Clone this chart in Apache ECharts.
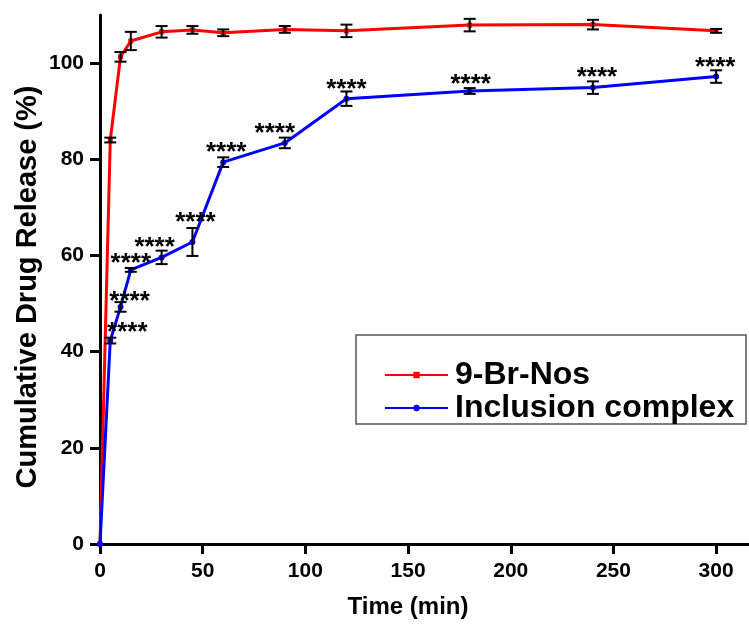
<!DOCTYPE html>
<html>
<head>
<meta charset="utf-8">
<script src="https://cdn.jsdelivr.net/npm/echarts@6/dist/echarts.min.js"></script>
<style>
  html, body { margin: 0; padding: 0; background: #fff; }
  #chart { width: 749px; height: 625px; }
</style>
</head>
<body>
<div id="chart"></div>
<script>
// Sampling times (min)
const timePoints = [0, 5, 10, 15, 30, 45, 60, 90, 120, 180, 240, 300];

// Cumulative release (%) and SD, free drug
const freeDrug   = [0, 84.0, 101.3, 104.6, 106.5, 106.9, 106.3, 107.0, 106.7, 107.9, 108.0, 106.7];
const freeDrugSd = [0, 0.5, 1.0, 1.9, 1.2, 0.8, 0.7, 0.7, 1.3, 1.3, 1.0, 0.4];

// Cumulative release (%) and SD, inclusion complex
const complexDrug   = [0, 42.3, 49.3, 57.0, 59.6, 62.8, 79.4, 83.4, 92.6, 94.2, 94.9, 97.2];
const complexDrugSd = [0, 0.6, 1.0, 0.4, 1.4, 2.9, 1.0, 1.1, 1.5, 0.6, 1.3, 1.3];

// Significance marks for the complex vs. free drug
const significance = ['', '****', '****', '****', '****', '****', '****', '****', '****', '****', '****', '****'];

const seriesNames = ['9-Br-Nos', 'Inclusion complex'];
const xTicks = [0, 50, 100, 150, 200, 250, 300];
const yTicks = [0, 20, 40, 60, 80, 100];

// Pixel nudges for the significance marks, relative to each point
const starNudge = [[0, 0], [17, -15], [9, -12], [0, -13], [-7, -17], [3, -26], [3, -16],
                   [-10, -16], [0, -16], [1, -13], [4, -17], [-1, -16]];

const FONT = 'Liberation Sans, Arial, sans-serif';
const RED = '#ff0000';
const BLUE = '#0000ff';

function errorBars(means, sds) {
  const rows = [];
  timePoints.forEach((t, i) => {
    if (sds[i] > 0) rows.push([t, means[i] - sds[i], means[i] + sds[i]]);
  });
  return {
    type: 'custom',
    silent: true,
    z: 4,
    data: rows,
    renderItem(params, api) {
      const t = api.value(0);
      const lo = api.coord([t, api.value(1)]);
      const hi = api.coord([t, api.value(2)]);
      const w = 6;
      const st = { stroke: '#000', lineWidth: 2 };
      return {
        type: 'group',
        children: [
          { type: 'line', shape: { x1: lo[0], y1: lo[1], x2: hi[0], y2: hi[1] }, style: st },
          { type: 'line', shape: { x1: lo[0] - w, y1: lo[1], x2: lo[0] + w, y2: lo[1] }, style: st },
          { type: 'line', shape: { x1: hi[0] - w, y1: hi[1], x2: hi[0] + w, y2: hi[1] }, style: st }
        ]
      };
    }
  };
}

const starRows = [];
timePoints.forEach((t, i) => {
  if (significance[i]) starRows.push([t, complexDrug[i], i]);
});

const chart = echarts.init(document.getElementById('chart'), null, { renderer: 'canvas' });

chart.setOption({
  animation: false,
  backgroundColor: '#fff',
  grid: { left: 100, right: 0, top: 15, bottom: 81 },
  xAxis: {
    type: 'value',
    min: 0,
    max: 316,
    interval: 50,
    splitLine: { show: false },
    axisLine: { onZero: false, lineStyle: { color: '#000', width: 3 } },
    axisTick: { customValues: xTicks, length: 10, lineStyle: { color: '#000', width: 3 } },
    axisLabel: {
      customValues: xTicks, margin: 17,
      color: '#000', fontSize: 21, fontWeight: 'bold', fontFamily: FONT
    }
  },
  yAxis: {
    type: 'value',
    min: 0,
    max: 110,
    interval: 20,
    splitLine: { show: false },
    axisLine: { onZero: false, lineStyle: { color: '#000', width: 3 } },
    axisTick: { customValues: yTicks, length: 10, lineStyle: { color: '#000', width: 3 } },
    axisLabel: {
      customValues: yTicks, margin: 16,
      color: '#000', fontSize: 21, fontWeight: 'bold', fontFamily: FONT
    }
  },
  legend: {
    data: seriesNames,
    orient: 'vertical',
    left: 379,
    top: 354,
    itemWidth: 63,
    itemHeight: 8,
    itemGap: 1,
    selectedMode: false,
    textStyle: {
      color: '#000', fontSize: 32, fontWeight: 'bold', fontFamily: FONT,
      padding: [0, 0, 0, 2]
    }
  },
  graphic: [
    {
      type: 'rect', z: -1, silent: true,
      shape: { x: 356, y: 335, width: 390, height: 89 },
      style: { fill: '#fff', stroke: '#555', lineWidth: 1.5 }
    },
    {
      type: 'text', silent: true,
      x: 408, y: 607,
      style: {
        text: 'Time (min)', fill: '#000', align: 'center', verticalAlign: 'middle',
        font: 'bold 24px ' + FONT
      }
    },
    {
      type: 'text', silent: true,
      x: 28, y: 287, rotation: Math.PI / 2,
      style: {
        text: 'Cumulative Drug Release (%)', fill: '#000', align: 'center', verticalAlign: 'middle',
        font: 'bold 29px ' + FONT
      }
    }
  ],
  series: [
    {
      name: seriesNames[0],
      type: 'line',
      data: timePoints.map((t, i) => [t, freeDrug[i]]),
      color: RED,
      symbol: 'rect',
      symbolSize: 5,
      lineStyle: { width: 3, color: RED },
      itemStyle: { color: RED },
      z: 2
    },
    {
      name: seriesNames[1],
      type: 'line',
      data: timePoints.map((t, i) => [t, complexDrug[i]]),
      color: BLUE,
      symbol: 'circle',
      symbolSize: 6,
      lineStyle: { width: 3, color: BLUE },
      itemStyle: { color: BLUE },
      z: 3
    },
    errorBars(freeDrug, freeDrugSd),
    errorBars(complexDrug, complexDrugSd),
    {
      type: 'custom',
      silent: true,
      z: 5,
      data: starRows,
      renderItem(params, api) {
        const p = api.coord([api.value(0), api.value(1)]);
        const n = starNudge[api.value(2)];
        return {
          type: 'text',
          x: p[0] + n[0],
          y: p[1] + n[1] + 7,
          style: {
            text: significance[api.value(2)], fill: '#000',
            align: 'center', verticalAlign: 'middle',
            font: 'bold 26px ' + FONT
          }
        };
      }
    }
  ]
});
</script>
</body>
</html>
